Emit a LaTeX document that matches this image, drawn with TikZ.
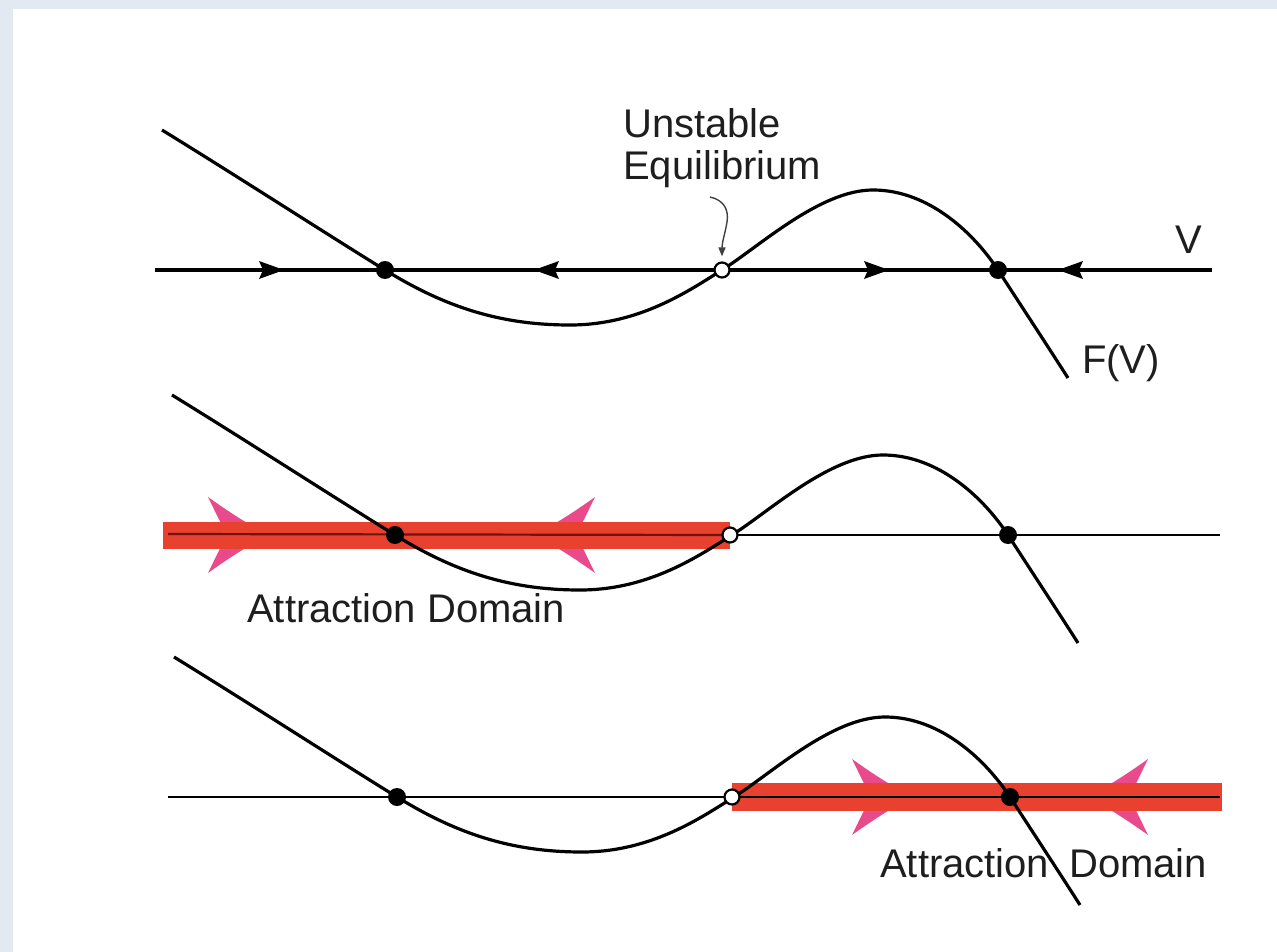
\documentclass[tikz,border=0pt]{standalone}
\usepackage{fontspec}
\setmainfont{Liberation Sans}
\usetikzlibrary{arrows.meta}
\definecolor{bgblue}{RGB}{226,233,243}
\definecolor{bandred}{RGB}{233,65,47}
\definecolor{pinkc}{RGB}{232,74,140}
\definecolor{darkred}{RGB}{110,20,12}
\definecolor{txt}{RGB}{30,30,30}
\newcommand{\FcurvePath}{(162,130) .. controls (240,178) and (325,233) .. (385,270) .. controls (445,307) and (500,325) .. (570,325) .. controls (640,325) and (690,290) .. (722,270) .. controls (760,246) and (820,190) .. (873,190) .. controls (930,190) and (975,235) .. (998,270) .. controls (1020,304) and (1045,342) .. (1068,378)}
\tikzset{
  fdot/.style={circle,fill=black,inner sep=0pt,minimum size=18pt},
  odot/.style={circle,draw=black,fill=white,line width=2.2pt,inner sep=0pt,minimum size=15pt},
  lbl/.style={inner sep=0pt,text=txt,font=\fontsize{40}{42}\selectfont},
  curve/.style={line width=3.2pt,black},
  axis/.style={line width=3.2pt,black},
  thinaxis/.style={line width=1.6pt,black},
  band/.style={fill=bandred},
  pinkarrow/.pic={
    \fill[pinkc] (0,-38) .. controls (25,-20) and (48,-6) .. (62,0)
      .. controls (48,6) and (25,20) .. (0,38)
      .. controls (8,22) and (14,8) .. (20,0)
      .. controls (14,-8) and (8,-22) .. (0,-38) -- cycle;
  }
}
\begin{document}
\begin{tikzpicture}[x=1pt,y=-1pt]
\fill[bgblue] (0,0) rectangle (1277,952);
\fill[white] (13,9) rectangle (1277,952);
\useasboundingbox (0,0) rectangle (1277,952);

% ---------------- Panel 1 ----------------
\coordinate (a1L) at (155,270);
\coordinate (a1R) at (1212,270);
\draw[axis] (a1L) -- (a1R);
\fill (284,270) -- (259,261) -- (263,270) -- (259,279) -- cycle;
\fill (534,270) -- (559,261) -- (555,270) -- (559,279) -- cycle;
\fill (889,270) -- (864,261) -- (868,270) -- (864,279) -- cycle;
\fill (1058,270) -- (1083,261) -- (1079,270) -- (1083,279) -- cycle;
\draw[curve] \FcurvePath;
\node[fdot] (s1a) at (385,270) {};
\node[odot] (u1) at (722,270) {};
\node[fdot] (s1b) at (998,270) {};
\node[lbl,anchor=base west] (ut1) at (623,138) {Unstable};
\node[lbl,anchor=base west] (ut2) at (623,180) {Equilibrium};
\node[lbl,anchor=base west] (vl) at (1175,253) {V};
\node[lbl,anchor=base west] (fv) at (1082,373) {F(V)};
\coordinate (sq) at (710,197);
\draw[line width=1.4pt,black!75,-{Triangle[length=9pt,width=7pt]},shorten >=5pt]
  (sq) .. controls (724,200) and (729,210) .. (727,222)
  .. controls (725,234) and (722,242) .. (u1.north);

% ---------------- Panel 2 ----------------
\begin{scope}[shift={(10,265)}]
\pic at (198,270) {pinkarrow};
\pic[rotate=180] at (585,270) {pinkarrow};
\coordinate (b2L) at (153,257);
\coordinate (b2R) at (720,284);
\fill[band] (b2L) rectangle (b2R);
\coordinate (a2L) at (158,269);
\coordinate (a2R) at (1210,270);
\node[odot,draw=none,fill=none] (u2pos) at (720,270) {};
\draw[line width=2.2pt,darkred] (a2L) -- (u2pos.center);
\draw[thinaxis] (u2pos.center) -- (a2R);
\draw[curve] \FcurvePath;
\node[fdot] (s2a) at (385,270) {};
\node[odot] (u2) at (720,270) {};
\node[fdot] (s2b) at (998,270) {};
\node[lbl,anchor=base west] (ad2) at (237,357) {Attraction Domain};
\end{scope}

% ---------------- Panel 3 ----------------
\begin{scope}[shift={(12,527)}]
\pic at (840,270) {pinkarrow};
\pic[rotate=180] at (1136,270) {pinkarrow};
\coordinate (b3L) at (720,256);
\coordinate (b3R) at (1210,284);
\fill[band] (b3L) rectangle (b3R);
\coordinate (a3L) at (156,270);
\coordinate (a3R) at (1208,270);
\draw[line width=2.6pt,black] (a3L) -- (a3R);
\draw[curve] \FcurvePath;
\node[fdot] (s3a) at (385,270) {};
\node[odot] (u3) at (720,270) {};
\node[fdot] (s3b) at (998,270) {};
\node[lbl,anchor=base west] (ad3) at (868,350) {Attraction\hspace{0.5em}Domain};
\end{scope}
\end{tikzpicture}
\end{document}
